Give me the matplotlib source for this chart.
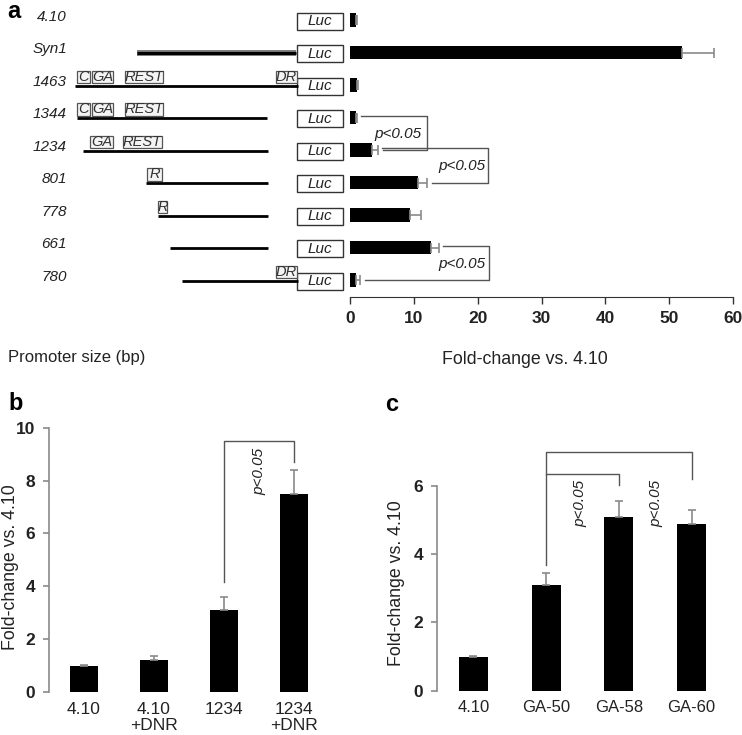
import matplotlib
matplotlib.use("Agg")
import matplotlib.pyplot as plt
from matplotlib.patches import Rectangle

plt.rcParams['font.family'] = ['Liberation Sans', 'DejaVu Sans']
NARROW = ['Liberation Sans Narrow', 'Liberation Sans', 'DejaVu Sans']

# ---------------- data ----------------
# panel a
constructs_a = ["4.10", "Syn1", "1463", "1344", "1234", "801", "778", "661", "780"]
values_a = [1.0, 52.0, 1.1, 1.0, 3.5, 10.6, 9.4, 12.7, 1.0]
errors_a = [0.1, 5.0, 0.2, 0.1, 0.9, 1.5, 1.7, 1.2, 0.6]
# schematic promoter line extents (pixel columns of the diagram)
line_start = [None, 137, 75, 77, 83, 146, 158, 170, 182]
line_end = [None, 296, 298, 267, 268, 268, 268, 268, 298]
# (element label, row, left px, right px)
elements = [("C", 2, 77, 90), ("GA", 2, 92, 113), ("REST", 2, 125, 163), ("DR", 2, 276, 297),
            ("C", 3, 77, 90), ("GA", 3, 92, 113), ("REST", 3, 125, 163),
            ("GA", 4, 90, 113), ("REST", 4, 123, 162),
            ("R", 5, 147, 162), ("R", 6, 158, 167), ("DR", 8, 276, 297)]
brackets_a = [(3, 4, 12.1, 7.5), (4, 5, 21.6, 17.5), (7, 8, 21.8, 17.5)]

# panel b
cats_b = ["4.10", "4.10\n+DNR", "1234", "1234\n+DNR"]
values_b = [1.0, 1.2, 3.1, 7.5]
errors_b = [0.03, 0.17, 0.48, 0.9]

# panel c
cats_c = ["4.10", "GA-50", "GA-58", "GA-60"]
values_c = [1.0, 3.1, 5.1, 4.9]
errors_c = [0.02, 0.36, 0.46, 0.39]

W, H = 742, 735
fig = plt.figure(figsize=(W / 100, H / 100), dpi=100)


def px_axes(l, t, r, b):
    return fig.add_axes([l / W, 1 - b / H, (r - l) / W, (b - t) / H])


ERR_C = '#8a8a8a'
BR_C = '#555555'

# ---------------- panel a ----------------
ylim_a = (8.523, -0.6)
axa = px_axes(350, 0.5, 733, 297)
rows = list(range(len(constructs_a)))
axa.barh(rows, values_a, height=0.43, color='black')
axa.errorbar(values_a, rows, xerr=[[0] * len(rows), errors_a], fmt='none',
             ecolor=ERR_C, elinewidth=1.2, capsize=3.5, capthick=1.2)
axa.set_xlim(0, 60)
axa.set_ylim(*ylim_a)
for s in ['top', 'right', 'left']:
    axa.spines[s].set_visible(False)
axa.spines['bottom'].set_color('#333333')
axa.set_yticks([])
axa.set_xticks(range(0, 61, 10))
axa.tick_params(axis='x', length=5, width=1, color='#333333', pad=5)
for lab in axa.get_xticklabels():
    lab.set_fontfamily(NARROW)
    lab.set_fontweight('bold')
    lab.set_fontsize(12.5)
    lab.set_color('#222222')

for r0, r1, xtop, xtxt in brackets_a:
    x0 = values_a[r0] + errors_a[r0] + 0.6
    x1 = values_a[r1] + errors_a[r1] + 0.7
    axa.plot([x0, xtop, xtop, x1], [r0 - 0.05, r0 - 0.05, r1, r1], color=BR_C, lw=1,
             clip_on=False)
    axa.text(xtxt, (r0 + r1) / 2, "p<0.05", ha='center', va='center', style='italic',
             fontsize=11, color='#222222')

# schematic
axs = px_axes(0, 0.5, 350, 297)
axs.set_xlim(0, 350)
axs.set_ylim(*ylim_a)
axs.axis('off')
for i, name in enumerate(constructs_a):
    axs.text(67, i - 0.1, name, ha='right', va='center', style='italic', fontsize=11,
             color='#222222')
    axs.add_patch(Rectangle((297, i - 0.22), 46, 0.52, facecolor='white',
                            edgecolor='#333333', lw=1))
    axs.text(320, i + 0.04, "Luc", ha='center', va='center', style='italic', fontsize=11,
             color='#222222')
    if line_start[i] is not None:
        start, end = line_start[i], line_end[i]
        if name == "Syn1":
            axs.plot([start, end], [i, i], color='#777777', lw=4.2, solid_capstyle='butt')
            axs.plot([start, end], [i, i], color='black', lw=2.2, solid_capstyle='butt')
        else:
            axs.plot([start, end], [i + 0.03, i + 0.03], color='black', lw=2.0,
                     solid_capstyle='butt')
for lab, r, x0, x1 in elements:
    axs.add_patch(Rectangle((x0, r - 0.44), x1 - x0, 0.38, facecolor='#f4f4f4',
                            edgecolor='#555555', lw=0.9))
    axs.text((x0 + x1) / 2, r - 0.25, lab, ha='center', va='center', style='italic',
             fontsize=10.5, color='#333333')

fig.text(7 / W, 1 - 12 / H, "a", fontsize=17, fontweight='bold', ha='left', va='center')
fig.text(8 / W, 1 - 357 / H, "Promoter size (bp)", fontsize=12, ha='left', va='center',
         color='#222222')
fig.text(525 / W, 1 - 359 / H, "Fold-change vs. 4.10", fontsize=12.8, ha='center',
         va='center', color='#222222')


def bar_panel(ax, cats, vals, errs, ymax, step, fs):
    x = list(range(len(cats)))
    ax.bar(x, vals, width=0.4, color='black')
    ax.errorbar(x, vals, yerr=[[0] * len(x), errs], fmt='none', ecolor=ERR_C,
                elinewidth=1.2, capsize=3, capthick=1.2)
    ax.set_xlim(-0.5, len(cats) - 0.5)
    ax.set_ylim(0, ymax)
    for s in ['top', 'right', 'bottom']:
        ax.spines[s].set_visible(False)
    ax.spines['left'].set_color('#8a8a8a')
    ax.spines['left'].set_linewidth(1.2)
    ax.set_yticks(range(0, ymax + 1, step))
    ax.tick_params(axis='y', length=4, width=1.2, color='#8a8a8a', pad=6)
    for lab in ax.get_yticklabels():
        lab.set_fontfamily(NARROW)
        lab.set_fontweight('bold')
        lab.set_fontsize(12.5)
        lab.set_color('#222222')
    ax.set_xticks(x)
    ax.set_xticklabels(cats, fontsize=fs, color='#222222', linespacing=1.1)
    ax.tick_params(axis='x', length=0, pad=7)
    return x


# ---------------- panel b ----------------
axb = px_axes(49, 427.7, 329, 692)
xb = bar_panel(axb, cats_b, values_b, errors_b, 10, 2, 12.5)
axb.plot([xb[2], xb[2], xb[3], xb[3]], [4.18, 9.5, 9.5, 8.7], color=BR_C, lw=1,
         clip_on=False)
axb.text(2.5, 8.35, "p<0.05", rotation=90, ha='center', va='center', style='italic',
         fontsize=11, color='#222222')
fig.text(8 / W, 1 - 403 / H, "b", fontsize=17, fontweight='bold', ha='left', va='center')
fig.text(11 / W, 1 - 567 / H, "Fold-change vs. 4.10", rotation=90, fontsize=12.8,
         ha='center', va='center', color='#222222')

# ---------------- panel c ----------------
axc = px_axes(437, 486, 728, 690.7)
xc = bar_panel(axc, cats_c, values_c, errors_c, 6, 2, 12)
axc.plot([xc[1], xc[1], xc[2], xc[2]], [3.69, 6.35, 6.35, 6.03], color=BR_C, lw=1,
         clip_on=False)
axc.plot([xc[1], xc[1], xc[3], xc[3]], [6.35, 7.0, 7.0, 6.2], color=BR_C, lw=1,
         clip_on=False)
axc.text(1.47, 5.5, "p<0.05", rotation=90, ha='center', va='center', style='italic',
         fontsize=11, color='#222222')
axc.text(2.52, 5.5, "p<0.05", rotation=90, ha='center', va='center', style='italic',
         fontsize=11, color='#222222')
fig.text(385 / W, 1 - 405 / H, "c", fontsize=17, fontweight='bold', ha='left', va='center')
fig.text(397 / W, 1 - 583 / H, "Fold-change vs. 4.10", rotation=90, fontsize=12.8,
         ha='center', va='center', color='#222222')

fig.savefig("out.png", dpi=100)
